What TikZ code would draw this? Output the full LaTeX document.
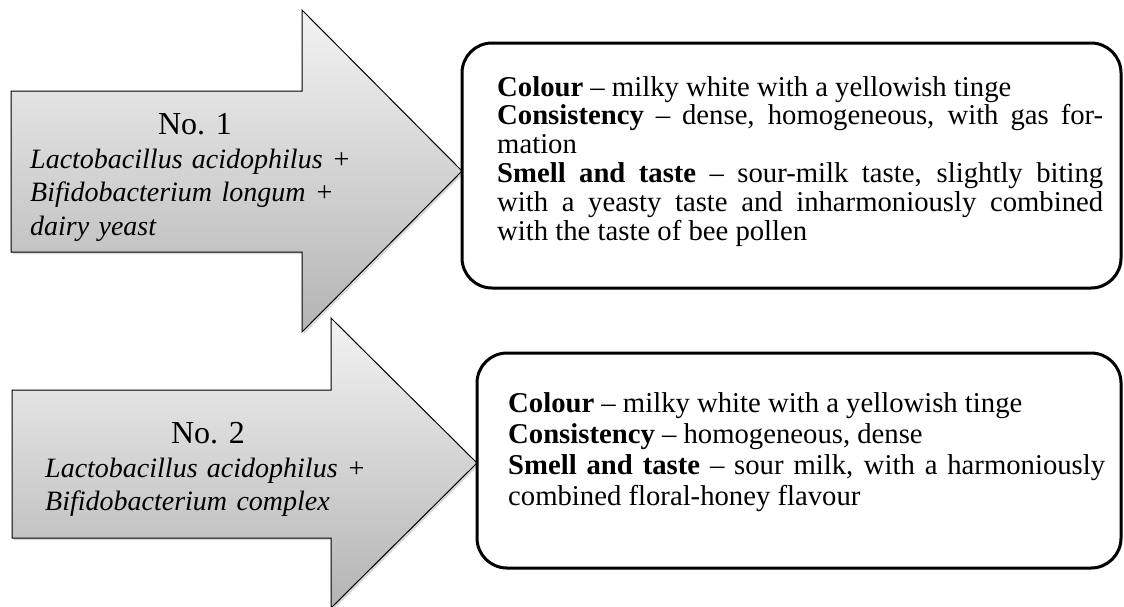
\documentclass[tikz,border=0pt]{standalone}
\usepackage{fontspec}
\setmainfont{Liberation Serif}
\usetikzlibrary{shadows}
\definecolor{arrtop}{RGB}{243,243,243}
\definecolor{arrbot}{RGB}{180,180,180}
\setlength{\parindent}{0pt}
\hbadness=10000
\begin{document}
\begin{tikzpicture}[x=1pt,y=-1pt,
  bigarrow/.style={draw=black, line width=1pt, line join=miter, top color=arrtop, bottom color=arrbot,
    drop shadow={shadow xshift=2pt, shadow yshift=-2pt, opacity=0.3}},
  infobox/.style={draw=black, line width=3pt, rounded corners=30pt, fill=white, inner sep=0pt,
    drop shadow={shadow xshift=1.5pt, shadow yshift=-1.5pt, opacity=0.2}},
  bodytext/.style={inner sep=0pt, anchor=base west, align=justify},
  numtext/.style={inner sep=0pt, anchor=base, font=\fontsize{32}{32}\selectfont},
  strtext/.style={inner sep=0pt, anchor=base west, align=left, text width=420pt,
    font=\fontsize{28}{33.5}\selectfont\itshape}
]
\useasboundingbox (0,0) rectangle (1124,606);

% arrows
\draw[bigarrow] (11,91) -- (302,91) -- (302,10) -- (462,171) -- (302,332) -- (302,252) -- (11,252) -- cycle;
\draw[bigarrow] (12,390) -- (331,390) -- (331,318) -- (477,463) -- (331,608) -- (331,538) -- (12,538) -- cycle;

% boxes
\node[infobox, minimum width=659pt, minimum height=245pt] (box1) at (791.5,165.5) {};
\node[infobox, minimum width=644pt, minimum height=215pt] (box2) at (799,460.5) {};

% arrow texts
\node[numtext] (no1) at (195,134) {No. 1};
\node[strtext] (str1) at (30,168) {Lactobacillus acidophilus +\\Bifidobacterium longum +\\dairy yeast};
\node[numtext] (no2) at (208,443) {No. 2};
\node[strtext] (str2) at (45,477) {Lactobacillus acidophilus +\\Bifidobacterium complex};

% box texts
\node[bodytext, text width=606pt, font=\fontsize{28.7}{28.8}\selectfont] (txt1) at (497,96)
 {\textbf{Colour} – milky white with a yellowish tinge\par
  \textbf{Consistency} – dense, homogeneous, with gas for-\linebreak mation\par
  \textbf{Smell and taste} – sour-milk taste, slightly biting\linebreak
  with a yeasty taste and inharmoniously combined\linebreak
  with the taste of bee pollen\par};
\node[bodytext, text width=597pt, font=\fontsize{28.7}{31.3}\selectfont] (txt2) at (508,412)
 {\textbf{Colour} – milky white with a yellowish tinge\par
  \textbf{Consistency} – homogeneous, dense\par
  \textbf{Smell and taste} – sour milk, with a harmoniously\linebreak
  combined floral-honey flavour\par};
\end{tikzpicture}
\end{document}
